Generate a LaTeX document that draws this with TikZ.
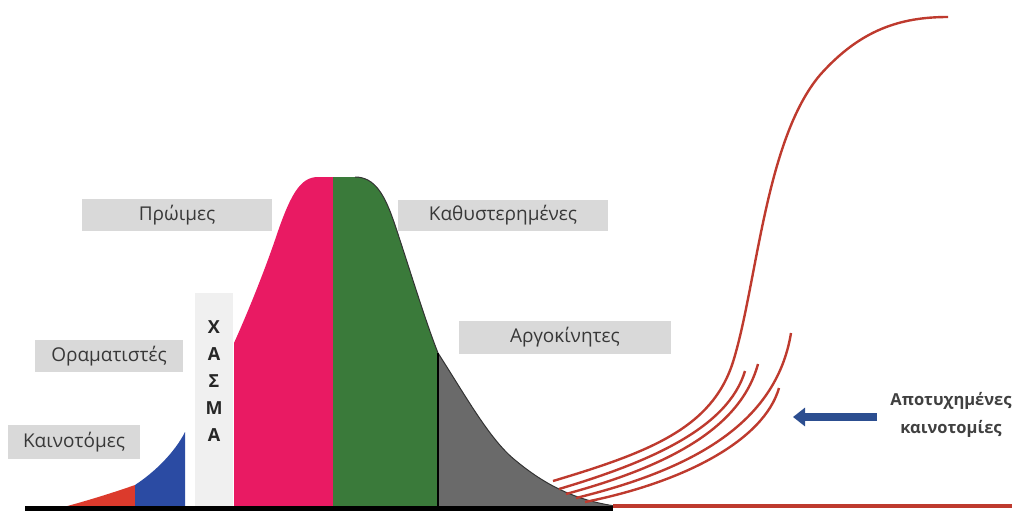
\documentclass[tikz,border=0pt]{standalone}
\usepackage{fontspec}
\setmainfont{Open Sans}
\usetikzlibrary{arrows.meta}
\definecolor{cred}{HTML}{DC3A2C}
\definecolor{cblue}{HTML}{2B4BA3}
\definecolor{cpink}{HTML}{E91A63}
\definecolor{cgreen}{HTML}{3A7A3A}
\definecolor{cgrey}{HTML}{6A6A6A}
\definecolor{clab}{HTML}{D9D9D9}
\definecolor{cchasm}{HTML}{F0F0F0}
\definecolor{cline}{HTML}{BE3A2E}
\definecolor{carrow}{HTML}{2C4E90}
\tikzset{
  lab/.style={fill=clab, inner sep=0pt, font=\fontsize{19}{21}\selectfont, text=black!78},
  redc/.style={draw=cline, line width=2.4pt},
}
\begin{document}
\begin{tikzpicture}[x=1pt,y=-1pt]
\useasboundingbox (0,0) rectangle (1018,511);
% areas
\fill[cred] (60,508) .. controls (90,500) and (115,492) .. (135,485) -- (135,508) -- cycle;
\fill[cblue] (135,508) -- (135,485) .. controls (155,472) and (175,452) .. (185,432) -- (185,508) -- cycle;
\node[fill=cchasm, minimum width=38pt, minimum height=215pt, inner sep=0pt] (chasm) at (214,400.5) {};
\node[align=center, font=\fontsize{18}{27}\selectfont\bfseries, text=black!85] (chasmtxt) at (214,381) {Χ\\Α\\Σ\\Μ\\Α};
\fill[cpink] (234,508) -- (234,343) .. controls (248,312) and (264,272) .. (275,240) .. controls (290,195) and (300,177) .. (318,177) -- (333,177) -- (333,508) -- cycle;
\fill[cgreen] (333,508) -- (333,177) -- (355,177) .. controls (375,177) and (385,195) .. (395,225) .. controls (410,270) and (425,320) .. (438,353) -- (438,508) -- cycle;
\fill[cgrey] (438,508) -- (438,353) .. controls (465,395) and (490,440) .. (515,460) .. controls (545,485) and (575,500) .. (615,506) -- cycle;
\draw[black!80, line width=1pt] (355,177) .. controls (375,177) and (385,195) .. (395,225) .. controls (410,270) and (425,320) .. (438,353) .. controls (465,395) and (490,440) .. (515,460) .. controls (545,485) and (575,500) .. (615,506);
\draw[black, line width=1.5pt] (438,353) -- (438,508);
% baselines
\coordinate (b0) at (25,508);
\coordinate (b1) at (613,508);
\coordinate (b2) at (1012,506);
\draw[black, line width=5pt] (b0) -- (b1);
\draw[cline, line width=4pt] (613,506) -- (b2);
% labels
\node[lab, minimum width=132pt, minimum height=34pt] (kain) at (74,442) {Καινοτόμες};
\node[lab, minimum width=148pt, minimum height=32pt] (orama) at (109,356) {Οραματιστές};
\node[lab, minimum width=190pt, minimum height=32pt] (proimes) at (177,215) {Πρώιμες};
\node[lab, minimum width=210pt, minimum height=31pt] (kath) at (503,215) {Καθυστερημένες};
\node[lab, minimum width=212pt, minimum height=33pt] (argo) at (565,337) {Αργοκίνητες};
% red curves
\draw[redc] (553,481) .. controls (650,452) and (712,428) .. (733,362) .. controls (757,285) and (765,140) .. (820,75) .. controls (860,30) and (900,17) .. (948,17);
\draw[redc] (559,489) .. controls (650,462) and (728,428) .. (745,371);
\draw[redc] (566,494) .. controls (665,467) and (740,430) .. (758,364);
\draw[redc] (576,498) .. controls (690,470) and (776,425) .. (791,333);
\draw[redc] (585,502) .. controls (685,482) and (764,440) .. (779,388);
% arrow and text
\node[align=center, font=\fontsize{16.5}{28}\selectfont\bfseries, text=black!75] (fail) at (951,415) {Αποτυχημένες\\καινοτομίες};
\coordinate (as) at (877,417);
\coordinate (ae) at (793,417);
\draw[carrow, line width=8pt, -{Triangle[width=18pt,length=12pt]}] (as) -- (ae);
\end{tikzpicture}
\end{document}
